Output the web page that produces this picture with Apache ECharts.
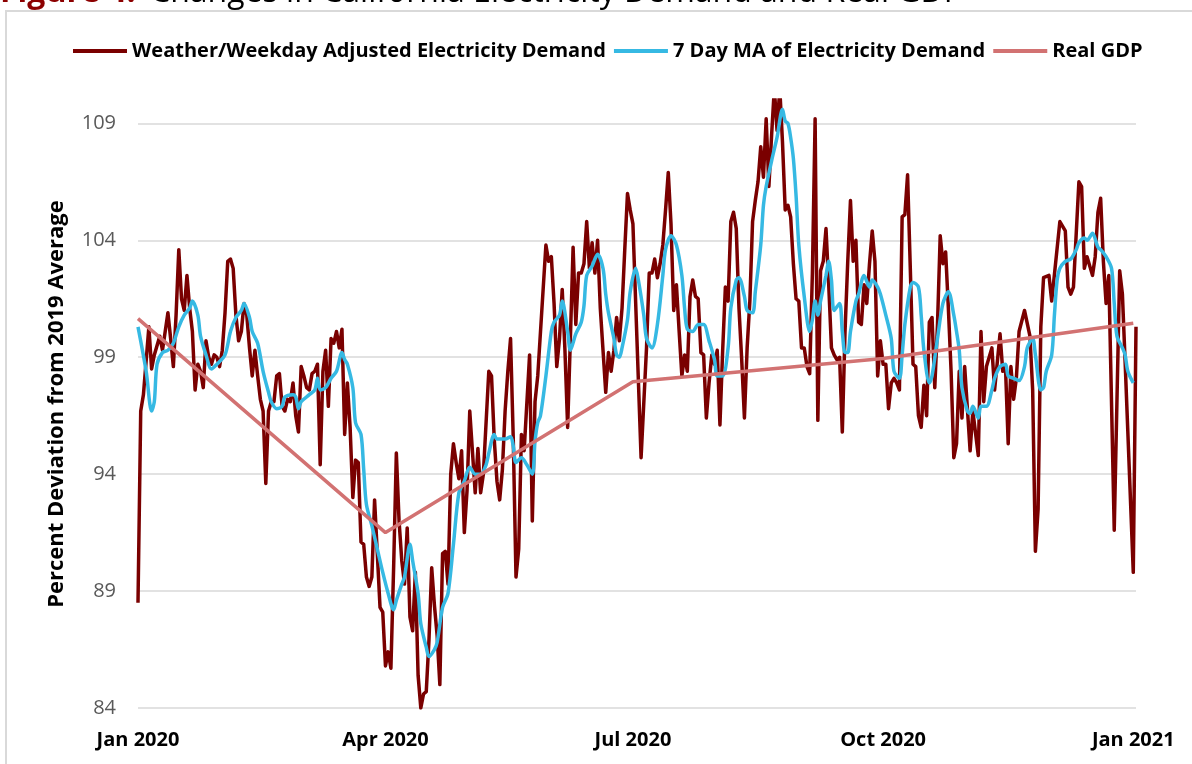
<!DOCTYPE html>
<html>
<head>
<meta charset="utf-8">
<script src="https://cdn.jsdelivr.net/npm/echarts@6/dist/echarts.min.js"></script>
<style>
  html, body { margin: 0; padding: 0; background: #fff; }
  #chart { width: 1192px; height: 764px; }
</style>
</head>
<body>
<div id="chart"></div>
<script>
  // Day index: 0 = 1 Jan 2020, 366 = 1 Jan 2021. Values.
  const xTickDays = [0, 91, 182, 274, 366];
  const xTickLabels = ['Jan 2020', 'Apr 2020', 'Jul 2020', 'Oct 2020', 'Jan 2021'];

  const demand = [
    [0, 88.5], [1, 96.7], [2, 97.4], [4, 100.3], [5, 98.5], [6, 99.1], [8, 99.9], [9, 99.3],
    [11, 100.9], [12, 99.8], [13, 98.6], [14, 100.8], [15, 103.6], [16, 101.5], [17, 101.0],
    [18, 102.5], [19, 101.1], [20, 100.1], [21, 97.6], [22, 98.7], [23, 98.4], [24, 97.7],
    [25, 99.7], [26, 99.0], [27, 98.7], [28, 99.1], [29, 99.0], [30, 98.6], [31, 99.3],
    [32, 100.9], [33, 103.1], [34, 103.2], [35, 102.8], [36, 100.8], [37, 99.7], [38, 100.1],
    [39, 101.3], [40, 100.8], [41, 99.4], [42, 98.2], [43, 99.3], [44, 98.2], [45, 97.2],
    [46, 96.7], [47, 93.6], [48, 96.7], [49, 97.1], [50, 97.1], [51, 98.2], [52, 98.3],
    [53, 96.9], [54, 96.7], [55, 97.2], [56, 97.1], [57, 97.9], [58, 96.5], [59, 95.8],
    [60, 98.6], [61, 98.2], [62, 97.7], [63, 97.6], [64, 98.3], [65, 98.4], [66, 98.7],
    [67, 94.4], [68, 98.4], [69, 99.3], [70, 96.9], [71, 99.8], [72, 99.6], [73, 100.1],
    [74, 99.4], [75, 100.2], [76, 95.7], [77, 97.9], [78, 96.0], [79, 93.0], [80, 94.6],
    [81, 94.5], [82, 91.1], [83, 91.0], [84, 89.6], [85, 89.2], [86, 89.6], [87, 92.9],
    [88, 90.6], [89, 88.3], [90, 88.1], [91, 85.8], [92, 86.4], [93, 85.7], [94, 90.0],
    [95, 94.9], [96, 92.0], [97, 90.3], [98, 89.3], [99, 91.7], [100, 87.9], [101, 87.3],
    [102, 89.8], [103, 85.4], [104, 84.0], [105, 84.6], [106, 84.7], [107, 86.9], [108, 90.0],
    [109, 88.4], [110, 87.1], [111, 85.0], [112, 90.6], [113, 90.7], [114, 89.3], [115, 94.0],
    [116, 95.3], [117, 94.5], [118, 93.8], [119, 95.0], [120, 91.5], [121, 93.3], [122, 96.7],
    [124, 93.2], [125, 95.1], [126, 93.2], [127, 94.0], [129, 98.4], [130, 98.2], [131, 95.5],
    [132, 93.7], [133, 92.9], [134, 94.2], [135, 96.7], [136, 98.4], [137, 99.8], [138, 95.5],
    [139, 89.6], [140, 90.8], [141, 95.7], [142, 95.0], [144, 99.1], [145, 92.0], [146, 97.1],
    [147, 98.2], [150, 103.8], [151, 103.1], [152, 103.3], [153, 101.3], [154, 98.6],
    [155, 99.8], [156, 101.9], [157, 99.3], [158, 96.0], [159, 99.8], [160, 103.7],
    [161, 100.4], [162, 102.6], [163, 102.6], [164, 103.0], [165, 104.8], [166, 102.8],
    [167, 103.9], [168, 102.6], [169, 104.0], [170, 101.1], [171, 99.3], [172, 97.5],
    [173, 99.2], [174, 98.4], [175, 99.3], [176, 100.7], [177, 99.7], [178, 101.1],
    [179, 103.6], [180, 106.0], [181, 105.3], [182, 104.7], [185, 94.7], [187, 99.4],
    [188, 102.6], [189, 102.6], [190, 103.2], [191, 102.4], [192, 103.0], [193, 103.8],
    [194, 105.3], [195, 106.9], [196, 104.7], [197, 101.0], [198, 102.1], [199, 100.1],
    [200, 98.2], [201, 99.1], [202, 98.4], [203, 101.6], [204, 102.3], [205, 101.6],
    [206, 101.5], [207, 99.2], [208, 99.1], [209, 96.4], [210, 97.9], [211, 99.1],
    [212, 98.7], [213, 99.3], [214, 96.1], [215, 99.3], [216, 102.0], [217, 101.4],
    [218, 104.8], [219, 105.2], [220, 104.5], [221, 101.1], [222, 98.9], [223, 96.4],
    [224, 99.4], [225, 101.4], [226, 104.8], [227, 105.7], [228, 106.5], [229, 108.0],
    [230, 106.7], [231, 109.2], [232, 106.3], [233, 108.5], [234, 110.5], [235, 108.7],
    [236, 110.5], [237, 108.2], [238, 105.3], [239, 105.5], [240, 105.0], [241, 103.0],
    [242, 101.5], [243, 101.4], [244, 99.4], [245, 99.4], [246, 98.6], [247, 98.3],
    [248, 102.6], [249, 109.2], [250, 96.3], [251, 102.7], [252, 103.1], [253, 104.5],
    [254, 102.1], [255, 99.4], [256, 99.1], [257, 98.9], [258, 99.0], [259, 95.8],
    [260, 100.1], [261, 103.1], [262, 105.7], [263, 103.1], [264, 104.0], [265, 100.5],
    [266, 100.4], [267, 102.1], [268, 101.3], [269, 103.0], [270, 104.4], [271, 103.1],
    [272, 98.2], [273, 99.7], [274, 98.7], [275, 98.7], [276, 96.8], [277, 97.9], [278, 98.1],
    [279, 97.9], [280, 97.6], [281, 105.0], [282, 105.1], [283, 106.8], [284, 102.8],
    [285, 98.7], [286, 98.6], [287, 96.5], [288, 96.0], [289, 97.8], [290, 96.5],
    [291, 100.5], [292, 100.7], [293, 97.7], [294, 100.4], [295, 104.2], [296, 103.0],
    [297, 103.5], [298, 101.1], [299, 98.4], [300, 94.7], [301, 95.3], [302, 98.4],
    [303, 96.4], [304, 98.6], [306, 95.0], [307, 96.7], [309, 94.8], [310, 100.1],
    [311, 97.1], [312, 98.6], [314, 99.4], [315, 97.6], [317, 100.0], [318, 98.4],
    [319, 98.6], [320, 95.3], [321, 98.6], [322, 97.2], [323, 98.1], [324, 100.1],
    [326, 101.0], [328, 99.9], [329, 97.6], [330, 90.7], [331, 92.5], [332, 100.3],
    [333, 102.4], [335, 102.5], [336, 101.4], [339, 104.8], [341, 104.4], [342, 102.0],
    [343, 101.7], [344, 102.0], [346, 106.5], [347, 106.3], [348, 102.8], [349, 103.3],
    [351, 102.5], [352, 103.3], [353, 105.2], [354, 105.8], [355, 103.1], [356, 101.3],
    [357, 102.5], [359, 91.6], [361, 102.7], [362, 101.7], [363, 98.8], [366, 89.8],
    [367, 100.3]
  ];

  const movingAvg = [
    [0, 100.3], [3, 98.4], [5, 96.7], [6, 97.1], [7, 98.7], [9, 99.2], [11, 99.3], [13, 99.6],
    [15, 100.3], [17, 100.8], [19, 101.1], [20, 101.4], [22, 100.8], [23, 99.9], [25, 99.1],
    [27, 98.5], [29, 98.7], [32, 99.1], [34, 100.1], [36, 100.7], [38, 101.0], [39, 101.3],
    [41, 100.7], [42, 100.1], [44, 99.6], [46, 98.4], [48, 97.5], [49, 97.1], [51, 96.8],
    [53, 96.9], [54, 97.3], [57, 97.4], [58, 97.3], [59, 96.8], [60, 97.1], [63, 97.4],
    [65, 97.6], [66, 98.1], [67, 97.6], [69, 97.7], [71, 98.1], [73, 98.4], [75, 99.2],
    [76, 98.9], [77, 98.7], [79, 97.7], [80, 96.2], [82, 95.7], [83, 94.2], [84, 92.7],
    [86, 91.8], [88, 90.8], [90, 89.8], [92, 88.9], [94, 88.2], [95, 88.6], [97, 89.3],
    [98, 89.6], [100, 91.0], [101, 90.3], [103, 88.9], [104, 87.6], [106, 86.6], [107, 86.2],
    [109, 86.5], [110, 86.8], [112, 88.3], [114, 88.9], [116, 91.0], [118, 93.2], [120, 93.7],
    [122, 94.3], [124, 94.0], [126, 94.0], [128, 94.4], [129, 94.9], [131, 95.7], [132, 95.5],
    [135, 95.5], [137, 95.6], [138, 95.2], [139, 94.5], [141, 94.7], [143, 94.4], [145, 94.0],
    [146, 95.4], [147, 96.2], [148, 96.5], [150, 98.2], [152, 100.1], [153, 100.5],
    [155, 100.8], [156, 101.4], [158, 100.1], [159, 99.3], [161, 100.0], [163, 100.5],
    [164, 101.2], [165, 102.5], [167, 102.9], [169, 103.4], [171, 102.8], [172, 101.7],
    [173, 100.9], [175, 99.8], [176, 99.1], [177, 99.0], [178, 99.4], [180, 100.6],
    [181, 101.8], [183, 102.8], [184, 102.3], [186, 100.8], [187, 99.8], [189, 99.4],
    [191, 100.4], [193, 102.5], [194, 103.6], [196, 104.2], [198, 103.8], [200, 102.5],
    [201, 101.1], [202, 100.2], [204, 100.1], [206, 100.4], [208, 100.4], [210, 99.7],
    [212, 98.9], [213, 98.2], [215, 98.2], [217, 99.4], [218, 101.1], [220, 102.3],
    [221, 102.4], [223, 101.6], [224, 101.0], [226, 100.9], [227, 101.8], [229, 103.8],
    [230, 105.5], [231, 106.3], [233, 107.4], [235, 108.4], [237, 109.6], [238, 109.1],
    [239, 109.0], [240, 108.4], [241, 107.5], [242, 105.9], [243, 103.8], [245, 101.6],
    [247, 100.1], [248, 100.6], [249, 101.4], [250, 100.8], [251, 101.4], [253, 102.5],
    [254, 103.1], [255, 102.3], [256, 101.0], [258, 101.3], [259, 100.1], [260, 99.2],
    [261, 99.2], [262, 100.1], [264, 101.4], [265, 101.7], [267, 102.5], [269, 102.0],
    [270, 102.3], [272, 102.0], [273, 101.7], [275, 100.8], [277, 99.8], [278, 98.4],
    [280, 98.1], [281, 99.1], [282, 100.4], [284, 102.0], [285, 102.2], [287, 102.0],
    [288, 100.8], [289, 99.3], [291, 97.9], [292, 98.2], [294, 99.8], [296, 101.3],
    [298, 101.8], [300, 100.8], [301, 100.1], [302, 99.3], [303, 97.7], [305, 96.7],
    [306, 96.6], [307, 96.9], [309, 96.4], [310, 96.9], [312, 96.9], [314, 97.6], [315, 98.1],
    [317, 98.6], [319, 98.7], [320, 98.2], [322, 98.1], [324, 98.0], [326, 98.6], [327, 99.4],
    [329, 99.8], [330, 99.1], [332, 97.6], [333, 97.7], [334, 98.4], [336, 99.1],
    [337, 100.8], [338, 102.3], [339, 102.8], [341, 103.1], [343, 103.2], [345, 103.6],
    [346, 103.9], [348, 104.1], [349, 104.0], [351, 104.3], [353, 103.7], [354, 103.6],
    [356, 103.3], [358, 102.8], [359, 101.3], [360, 99.9], [362, 99.4], [363, 99.1],
    [364, 98.4], [366, 97.9]
  ];

  const gdpDays = [0, 91, 182, 274, 366];
  const gdpValues = [100.65, 91.5, 97.95, 98.95, 100.45];

  const seriesNames = [
    'Weather/Weekday Adjusted Electricity Demand',
    '7 Day MA of Electricity Demand',
    'Real GDP'
  ];
  const seriesColors = ['#7a0000', '#36b9e3', '#d27272'];

  const font = '"Open Sans", "Liberation Sans", sans-serif';
  const chart = echarts.init(document.getElementById('chart'), null, { renderer: 'canvas' });

  chart.setOption({
    animation: false,
    backgroundColor: '#ffffff',
    graphic: [
      {
        type: 'rect', silent: true, z: -1,
        shape: { x: 6, y: 11, width: 1200, height: 800 },
        style: { fill: 'none', stroke: '#d9d9d9', lineWidth: 2 }
      },
      {
        type: 'text', left: 0, top: -23,
        style: { text: 'Figure 4:', fill: '#8c0000', font: 'bold 32px ' + font }
      },
      {
        type: 'text', left: 150, top: -23,
        style: { text: 'Changes in California Electricity Demand and Real GDP', fill: '#000000', font: '32px ' + font }
      }
    ],
    legend: {
      left: 68,
      top: 36,
      icon: 'rect',
      itemWidth: 54,
      itemHeight: 4,
      itemGap: 8,
      textStyle: { fontFamily: font, fontWeight: 'bold', fontSize: 20, color: '#000000' },
      data: seriesNames
    },
    grid: { left: 138, right: 56, top: 100, bottom: 56, containLabel: false },
    xAxis: {
      type: 'value',
      min: 0,
      max: 367,
      axisLine: { show: false },
      axisTick: { show: false },
      splitLine: { show: false },
      axisLabel: {
        customValues: xTickDays,
        formatter: (v) => xTickLabels[xTickDays.indexOf(v)] || '',
        margin: 22,
        fontFamily: font,
        fontWeight: 'bold',
        fontSize: 20,
        color: '#000000'
      }
    },
    yAxis: {
      type: 'value',
      min: 84,
      max: 110,
      interval: 5,
      name: 'Percent Deviation from 2019 Average',
      nameLocation: 'middle',
      nameGap: 70,
      nameTextStyle: { fontFamily: font, fontWeight: 'bold', fontSize: 22, color: '#000000' },
      axisLine: { show: false },
      axisTick: { show: false },
      axisLabel: {
        showMaxLabel: false,
        margin: 22,
        fontFamily: font,
        fontSize: 20,
        color: '#595959'
      },
      splitLine: { showMaxLine: false, lineStyle: { color: '#d9d9d9', width: 1.5 } }
    },
    series: [
      {
        name: seriesNames[0], type: 'line', data: demand, symbol: 'none',
        color: seriesColors[0], lineStyle: { width: 3.5, color: seriesColors[0], join: 'round' }
      },
      {
        name: seriesNames[1], type: 'line', data: movingAvg, symbol: 'none', smooth: 0.3,
        color: seriesColors[1], lineStyle: { width: 3.5, color: seriesColors[1] }
      },
      {
        name: seriesNames[2], type: 'line', symbol: 'none',
        data: gdpDays.map((d, i) => [d, gdpValues[i]]),
        color: seriesColors[2], lineStyle: { width: 3.5, color: seriesColors[2] }
      }
    ]
  });
</script>
</body>
</html>
